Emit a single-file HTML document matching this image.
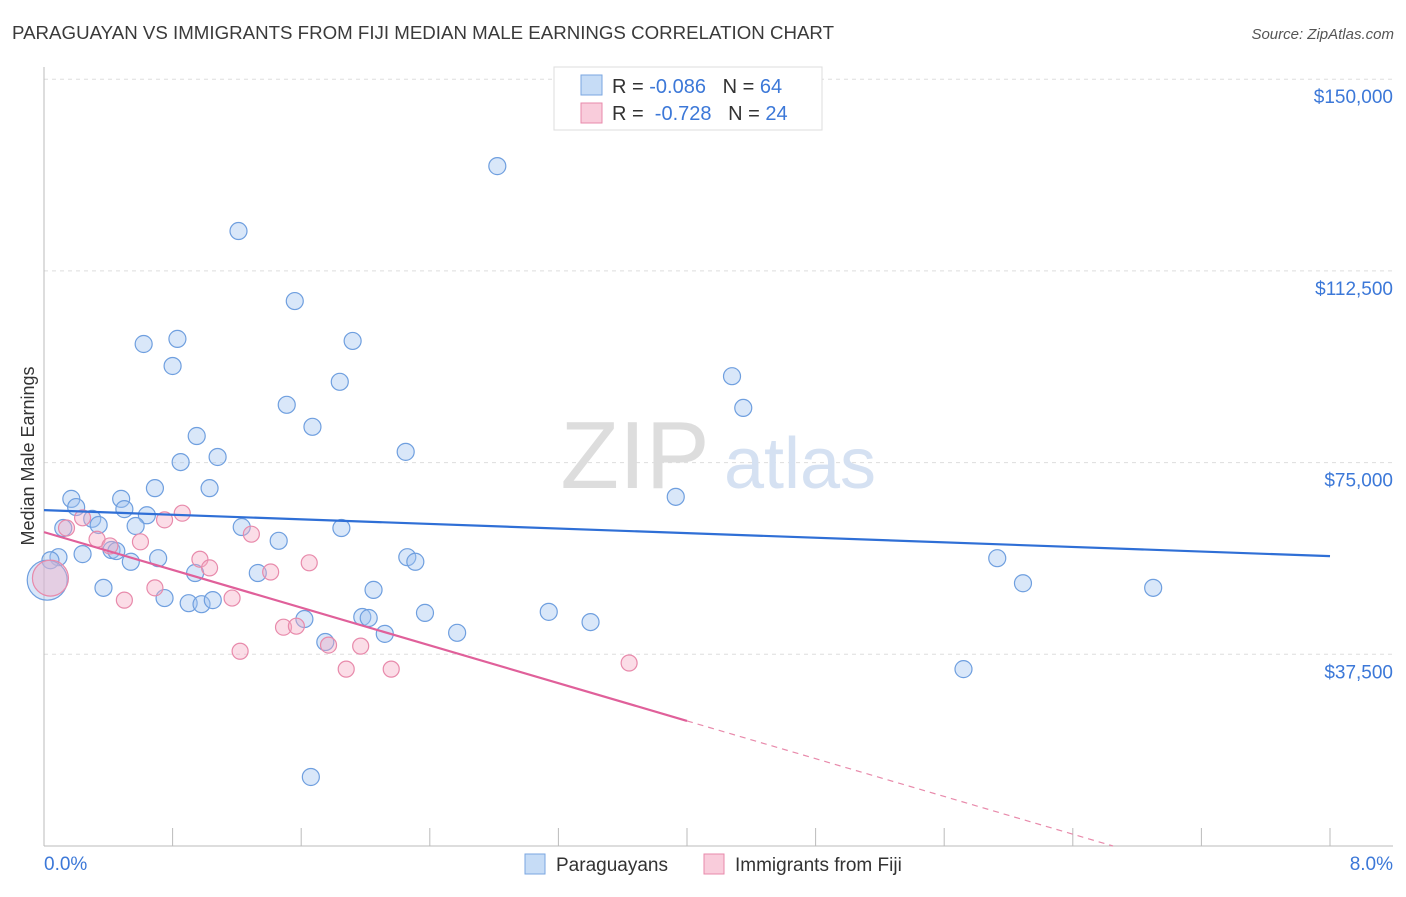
<!DOCTYPE html>
<html><head><meta charset="utf-8"><style>
body{margin:0;background:#fff;font-family:"Liberation Sans",sans-serif;}
svg text{font-family:"Liberation Sans",sans-serif;}
</style></head><body>
<svg id="chart" width="1406" height="892" viewBox="0 0 1406 892">
<text x="12" y="39" font-size="18" fill="#3a3a3a" textLength="822" lengthAdjust="spacingAndGlyphs">PARAGUAYAN VS IMMIGRANTS FROM FIJI MEDIAN MALE EARNINGS CORRELATION CHART</text>
<text x="1394" y="39" font-size="15" fill="#555" text-anchor="end" font-style="italic">Source: ZipAtlas.com</text>
<text transform="translate(34,456) rotate(-90)" font-size="18" fill="#333" text-anchor="middle">Median Male Earnings</text>
<g id="grid"></g>
<g>
<text x="635" y="488" font-size="96" fill="#ddd" font-family="Liberation Serif" text-anchor="middle">ZIP</text>
<text x="800" y="488" font-size="72" fill="#d5e1f2" text-anchor="middle">atlas</text>
</g>
<g id="marks"></g>
<g>
<rect x="554" y="67" width="268" height="63" fill="#fff" stroke="#ddd"/>
<rect x="581" y="75" width="21" height="20" fill="rgba(160,196,240,0.6)" stroke="#7aa6e0"/>
<text x="612" y="93" font-size="20" fill="#333">R = <tspan fill="#3c78d8">-0.086</tspan>&#160;&#160;&#160;N = <tspan fill="#3c78d8">64</tspan></text>
<rect x="581" y="103" width="21" height="20" fill="rgba(245,170,195,0.6)" stroke="#e88aab"/>
<text x="612" y="120" font-size="20" fill="#333">R = &#160;<tspan fill="#3c78d8">-0.728</tspan>&#160;&#160;&#160;N = <tspan fill="#3c78d8">24</tspan></text>
</g>
<g>
<rect x="525" y="854" width="20" height="20" fill="rgba(160,196,240,0.6)" stroke="#7aa6e0"/>
<text x="556" y="871" font-size="19" fill="#333">Paraguayans</text>
<rect x="704" y="854" width="20" height="20" fill="rgba(245,170,195,0.6)" stroke="#e88aab"/>
<text x="735" y="871" font-size="19" fill="#333">Immigrants from Fiji</text>
</g>
</svg>
<script>
const yTicks=[37500,75000,112500,150000];
const yTickLabels=["$37,500","$75,000","$112,500","$150,000"];
const xTickLabels=["0.0%","8.0%"];
const blueX=[2.82,1.21,1.56,0.62,0.83,1.92,0.80,1.84,4.28,4.35,1.51,1.67,0.95,1.08,2.25,0.85,0.69,1.03,0.17,0.48,0.20,0.50,0.64,0.30,0.34,0.57,1.23,1.85,3.93,0.12,1.46,0.09,0.24,0.42,0.45,0.71,0.54,2.26,2.31,5.93,6.09,6.90,0.04,1.33,0.94,0.37,2.05,0.75,0.90,0.98,1.05,2.37,3.14,1.98,2.02,3.40,1.62,2.57,2.12,1.75,5.72,1.66];
const blueY=[133000,120300,106600,98200,99200,98800,93900,90800,91900,85700,86300,82000,80200,76100,77100,75100,70000,70000,67900,67900,66300,65900,64700,64000,62800,62600,62400,62200,68300,62200,59700,56500,57100,57900,57700,56300,55600,56500,55600,56300,51400,50500,55900,53400,53400,50500,50100,48500,47500,47300,48100,45600,45800,44800,44600,43800,44400,41700,41500,39900,34600,13500];
const blueBig=[0.02,52000];
const pinkX=[0.14,0.24,0.33,0.41,0.60,0.86,0.75,0.97,1.03,1.29,1.65,0.50,0.69,1.17,1.41,1.22,1.49,1.57,1.77,1.97,1.88,2.16,3.64];
const pinkY=[62200,64200,60000,58700,59500,65100,63800,56100,54400,61000,55400,48100,50500,48500,53600,38100,42800,43000,39300,39100,34600,34600,35800];
const pinkBig=[0.04,52400];
const blueTrend=[65700,56700];
const pinkTrend=[61400,-9233];
const X0=44,X1=1330,Y0=846,YS=191.7/37500;
const sx=p=>X0+p*(X1-X0)/8, sy=v=>Y0-v*YS;
const NS="http://www.w3.org/2000/svg";
function mk(parent,tag,attrs){const e=document.createElementNS(NS,tag);for(const k in attrs)e.setAttribute(k,attrs[k]);parent.appendChild(e);return e;}
const grid=document.getElementById('grid'),marks=document.getElementById('marks');
yTicks.forEach((t,i)=>{
 const l=mk(grid,'line',{x1:44,x2:1393,y1:sy(t),y2:sy(t),stroke:'#ddd','stroke-dasharray':'4,4'});
 
 
 const tx=mk(grid,'text',{x:1393,y:sy(t)+24,'font-size':19,fill:'#3c78d8','text-anchor':'end'});
 tx.textContent=yTickLabels[i];
 
 
});
let ax=mk(grid,'line',{x1:44,x2:44,y1:67,y2:846,stroke:'#bbb'});


ax=mk(grid,'line',{x1:44,x2:1393,y1:846,y2:846,stroke:'#bbb'});


for(let i=0;i<=10;i++){const x=X0+i*(X1-X0)/10;const tk=mk(grid,'line',{x1:x,x2:x,y1:828,y2:846,stroke:'#bbb'});
 
 }
[[44,'start',0],[1393,'end',1]].forEach(a=>{const t=mk(grid,'text',{x:a[0],y:870,'font-size':19,fill:'#3c78d8','text-anchor':a[1]});t.textContent=xTickLabels[a[2]];
 
 });
function dot(x,y,r,fill,stroke,name){const c=mk(marks,'circle',{cx:sx(x),cy:sy(y),r:r,fill:fill,stroke:stroke,'stroke-width':1.2});
 
 }
const bf='rgba(160,196,240,0.4)',bs='#6f9fdf',pf='rgba(245,170,195,0.4)',ps='#e88aab';
blueX.forEach((x,i)=>dot(x,blueY[i],8.5,bf,bs,'paraguayan-point'));
dot(blueBig[0],blueBig[1],20,bf,bs,'paraguayan-point-large');
pinkX.forEach((x,i)=>dot(x,pinkY[i],8,pf,ps,'fiji-point'));
dot(pinkBig[0],pinkBig[1],18,pf,ps,'fiji-point-large');
let tl=mk(marks,'line',{x1:sx(0),y1:sy(blueTrend[0]),x2:sx(8),y2:sy(blueTrend[1]),stroke:'#2f6fd6','stroke-width':2.2});


const pv=p=>pinkTrend[0]+pinkTrend[1]*p;
tl=mk(marks,'line',{x1:sx(0),y1:sy(pv(0)),x2:sx(4),y2:sy(pv(4)),stroke:'#e0609a','stroke-width':2.2});


const pEnd=-pinkTrend[0]/pinkTrend[1];
tl=mk(marks,'line',{x1:sx(4),y1:sy(pv(4)),x2:sx(pEnd),y2:sy(0),stroke:'#e88aab','stroke-width':1.2,'stroke-dasharray':'6,5'});


</script>
</body></html>
